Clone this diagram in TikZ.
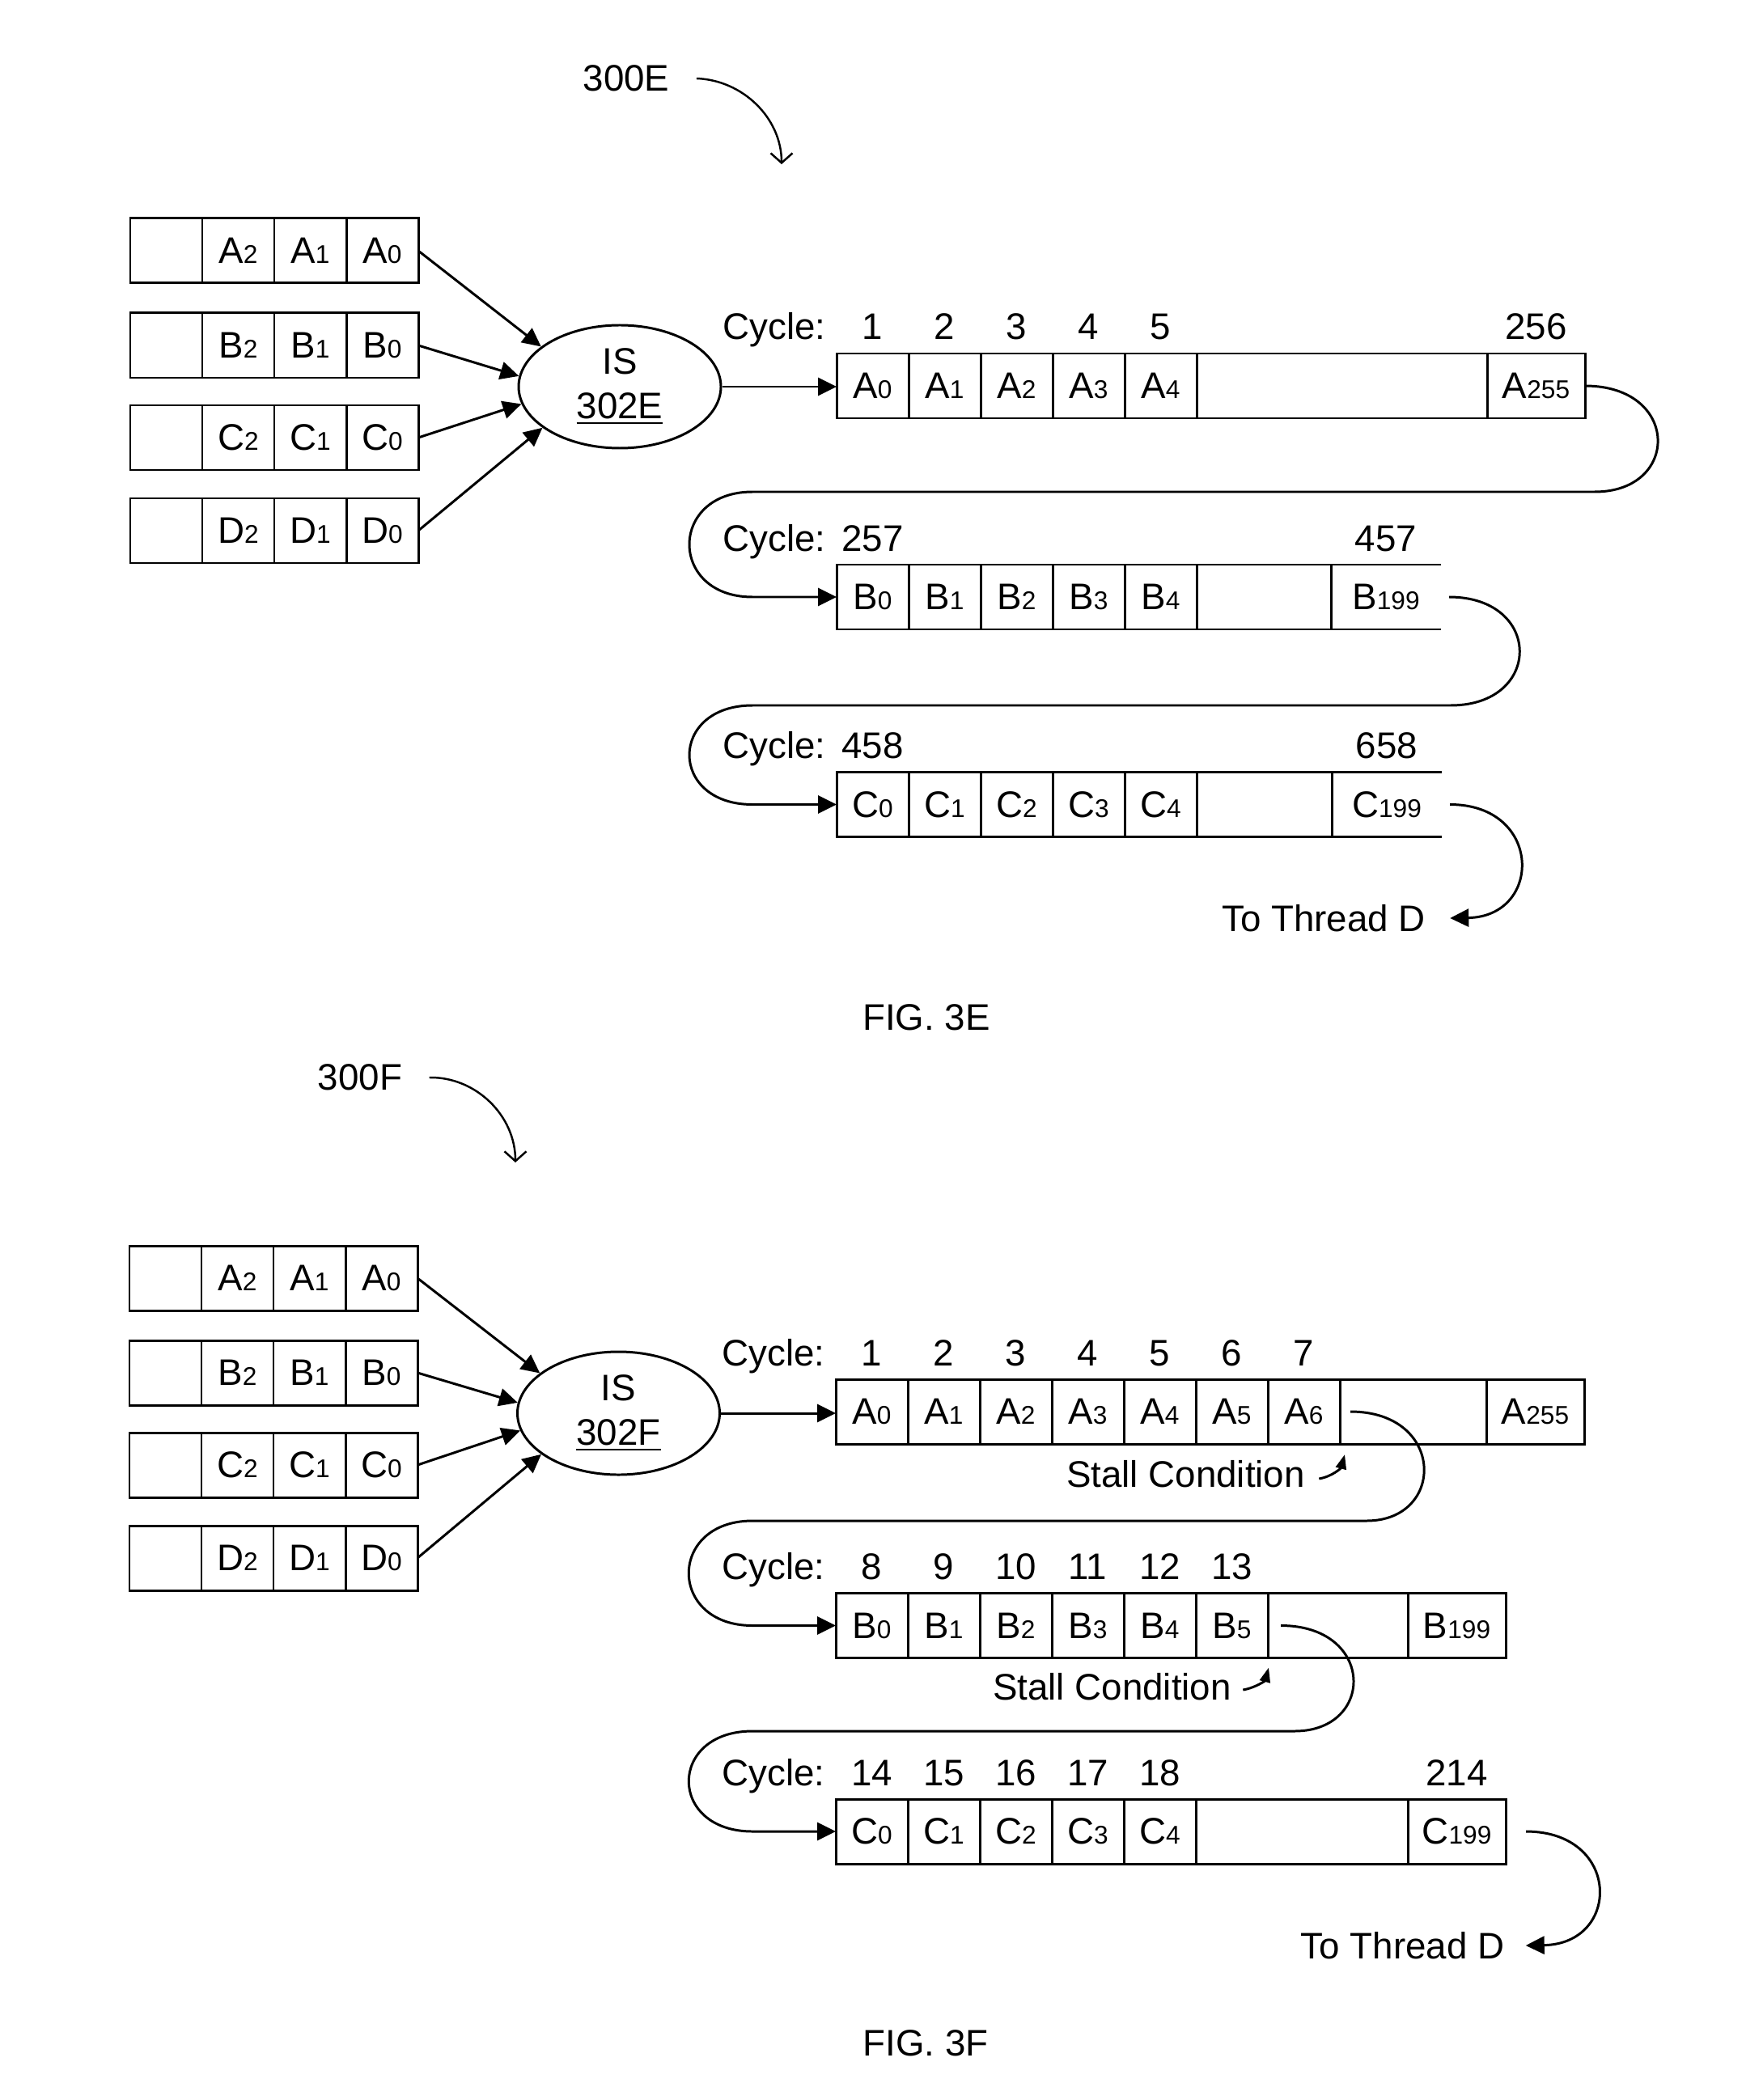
\documentclass[tikz,border=0pt]{standalone}
\usepackage{tikz}
\usepackage{fontspec}
\setmainfont{Liberation Sans}
\usetikzlibrary{shapes,arrows.meta,positioning,calc}

\newcommand{\ix}[1]{{\fontsize{9}{9}\selectfont #1}}

\begin{document}
\begin{tikzpicture}[>={Triangle[length=0.23cm,width=0.22cm]}, line width=0.85pt, font=\fontsize{13}{15.6}\selectfont]
\tikzstyle{cell} = [draw, rectangle, minimum width=0.89cm, minimum height=0.8cm, inner sep=0, outer sep=0]
\tikzstyle{slot} = [draw, rectangle, minimum height=0.8cm, inner sep=0, outer sep=0]
\tikzstyle{opencell} = [rectangle, minimum height=0.8cm, inner sep=0, outer sep=0]
\tikzstyle{num} = [inner sep=0, text depth=0pt]
\tikzstyle{sched} = [draw, ellipse, minimum width=2.5cm, minimum height=1.52cm, inner sep=0, align=center]
\tikzstyle{tiny} = [-{Triangle[length=0.18cm,width=0.13cm]}]
\tikzstyle{ref} = [-{Straight Barb[length=0.12cm,width=0.27cm]}, line width=0.7pt]

\useasboundingbox (0,0) rectangle (21.78,-25.96);

%% FIG. 3E
\node[inner sep=0] (ref3e) at (7.74,-0.97) {300E};
\draw[ref] ([xshift=0.32cm]ref3e.east) .. controls (9.18,-0.99) and (9.66,-1.46) .. (9.66,-2.03);

% input queues
\foreach \t/\y in {A/-3.10,B/-4.27,C/-5.41,D/-6.56} {
  \node[cell] (eq\t3) at (2.055,\y) {};
  \node[cell, right=0pt of eq\t3] (eq\t2) {\t\ix{2}};
  \node[cell, right=0pt of eq\t2] (eq\t1) {\t\ix{1}};
  \node[cell, right=0pt of eq\t1] (eq\t0) {\t\ix{0}};
}

\node[sched] (eis) at (7.66,-4.78) {IS\\\underline{302E}};
\draw[->] (eqA0.east) -- (eis.153);
\draw[->] (eqB0.east) -- (eis.174);
\draw[->] (eqC0.east) -- (eis.190);
\draw[->] (eqD0.east) -- (eis.208);

% thread A
\foreach \i [count=\n from 1] in {0,...,4} {
  \node[cell] (ea\i) at ({10.785+0.89*\i},-4.77) {A\ix{\i}};
  \node[num, above=0.155cm of ea\i] (ena\i) {\n};
}
\node[slot, minimum width=3.59cm, right=0pt of ea4] (eagap) {};
\node[slot, minimum width=1.21cm, right=0pt of eagap] (ea255) {A\ix{255}};
\node[num, above=0.155cm of ea255] (ena255) {256};
\node[num, above left=0.155cm and 0.12cm of ea0.north west] (ecya) {Cycle:};

% thread B
\foreach \i in {0,...,4} {
  \node[cell] (eb\i) at ({10.785+0.89*\i},-7.38) {B\ix{\i}};
}
\node[slot, minimum width=1.66cm, right=0pt of eb4] (ebgap) {};
\node[opencell, minimum width=1.36cm, right=0pt of ebgap] (eb199) {B\ix{199}};
\draw (ebgap.north east) -- (eb199.north east);
\draw (ebgap.south east) -- (eb199.south east);
\node[num, above=0.155cm of eb0] (enb0) {257};
\node[num, above=0.155cm of eb199] (enb199) {457};
\node[num, above left=0.155cm and 0.12cm of eb0.north west] (ecyb) {Cycle:};

% thread C
\foreach \i in {0,...,4} {
  \node[cell] (ec\i) at ({10.785+0.89*\i},-9.945) {C\ix{\i}};
}
\node[slot, minimum width=1.67cm, right=0pt of ec4] (ecgap) {};
\node[opencell, minimum width=1.36cm, right=0pt of ecgap] (ec199) {C\ix{199}};
\draw (ecgap.north east) -- (ec199.north east);
\draw (ecgap.south east) -- (ec199.south east);
\node[num, above=0.155cm of ec0] (enc0) {458};
\node[num, above=0.155cm of ec199] (enc199) {658};
\node[num, above left=0.155cm and 0.12cm of ec0.north west] (ecyc) {Cycle:};

\node[inner sep=0] (etd) at (16.36,-11.35) {To Thread D};

\draw[->] (eis.east) -- (eis.east -| ea0.west);
\draw[->] (ea255.east) .. controls (20.77,-4.77) and (20.77,-6.08) .. (19.71,-6.08) -- (9.30,-6.08)
  .. controls (8.26,-6.08) and (8.26,-7.38) .. (9.30,-7.38) -- (eb0.west);
\draw[->] ([xshift=0.1cm]eb199.east) .. controls (19.07,-7.38) and (19.07,-8.72) .. (17.93,-8.72) -- (9.30,-8.72)
  .. controls (8.26,-8.72) and (8.26,-9.945) .. (9.30,-9.945) -- (ec0.west);
\draw[->] ([xshift=0.1cm]ec199.east) .. controls (19.07,-9.945) and (19.07,-11.33) .. ([xshift=0.29cm]etd.east);

\node (fig3e) at (11.45,-12.58) {FIG. 3E};

%% FIG. 3F
\begin{scope}[yshift=-12.70cm]
\node[inner sep=0] (ref3f) at (4.45,-0.62) {300F};
\draw[ref] ([xshift=0.32cm]ref3f.east) .. controls (5.88,-0.61) and (6.37,-1.09) .. (6.37,-1.67);

% input queues
\foreach \t/\y in {A/-3.10,B/-4.27,C/-5.41,D/-6.56} {
  \node[cell] (fq\t3) at (2.045,\y) {};
  \node[cell, right=0pt of fq\t3] (fq\t2) {\t\ix{2}};
  \node[cell, right=0pt of fq\t2] (fq\t1) {\t\ix{1}};
  \node[cell, right=0pt of fq\t1] (fq\t0) {\t\ix{0}};
}

\node[sched] (fis) at (7.645,-4.77) {IS\\\underline{302F}};
\draw[->] (fqA0.east) -- (fis.153);
\draw[->] (fqB0.east) -- (fis.174);
\draw[->] (fqC0.east) -- (fis.190);
\draw[->] (fqD0.east) -- (fis.208);

% thread A
\foreach \i [count=\n from 1] in {0,...,6} {
  \node[cell] (fa\i) at ({10.775+0.89*\i},-4.75) {A\ix{\i}};
  \node[num, above=0.155cm of fa\i] (fna\i) {\n};
}
\node[slot, minimum width=1.81cm, right=0pt of fa6] (fagap) {};
\node[slot, minimum width=1.21cm, right=0pt of fagap] (fa255) {A\ix{255}};
\node[num, above left=0.155cm and 0.12cm of fa0.north west] (fcya) {Cycle:};

% thread B
\foreach \i [count=\n from 8] in {0,...,5} {
  \node[cell] (fb\i) at ({10.775+0.89*\i},-7.395) {B\ix{\i}};
  \node[num, above=0.155cm of fb\i] (fnb\i) {\n};
}
\node[slot, minimum width=1.73cm, right=0pt of fb5] (fbgap) {};
\node[slot, minimum width=1.21cm, right=0pt of fbgap] (fb199) {B\ix{199}};
\node[num, above left=0.155cm and 0.12cm of fb0.north west] (fcyb) {Cycle:};

% thread C
\foreach \i [count=\n from 14] in {0,...,4} {
  \node[cell] (fc\i) at ({10.775+0.89*\i},-9.94) {C\ix{\i}};
  \node[num, above=0.155cm of fc\i] (fnc\i) {\n};
}
\node[slot, minimum width=2.62cm, right=0pt of fc4] (fcgap) {};
\node[slot, minimum width=1.21cm, right=0pt of fcgap] (fc199) {C\ix{199}};
\node[num, above=0.155cm of fc199] (fnc199) {214};
\node[num, above left=0.155cm and 0.12cm of fc0.north west] (fcyc) {Cycle:};

% stalls
\node[inner sep=0] (fst1) at (14.655,-5.52) {Stall Condition};
\draw[tiny] ([xshift=0.16cm,yshift=-0.06cm]fst1.east) to[out=10,in=-105] ([xshift=0.06cm,yshift=-0.13cm]fa6.south east);
\node[inner sep=0] (fst2) at (13.745,-8.15) {Stall Condition};
\draw[tiny] ([xshift=0.13cm,yshift=-0.04cm]fst2.east) to[out=10,in=-105] ([xshift=0.01cm,yshift=-0.12cm]fb5.south east);

\node[inner sep=0] (ftd) at (17.335,-11.35) {To Thread D};

\draw[->] (fis.east) -- (fis.east -| fa0.west);
\draw[->] ([xshift=0.13cm]fagap.west) .. controls (17.87,-4.75) and (17.87,-6.10) .. (16.89,-6.10) -- (9.30,-6.10)
  .. controls (8.25,-6.10) and (8.25,-7.395) .. (9.30,-7.395) -- (fb0.west);
\draw[->] ([xshift=0.16cm]fbgap.west) .. controls (17.0,-7.395) and (17.0,-8.70) .. (16.0,-8.70) -- (9.30,-8.70)
  .. controls (8.25,-8.70) and (8.25,-9.94) .. (9.30,-9.94) -- (fc0.west);
\draw[->] ([xshift=0.25cm]fc199.east) .. controls (20.04,-9.94) and (20.04,-11.33) .. ([xshift=0.25cm]ftd.east);

\node (fig3f) at (11.44,-12.56) {FIG. 3F};
\end{scope}
\end{tikzpicture}
\end{document}
